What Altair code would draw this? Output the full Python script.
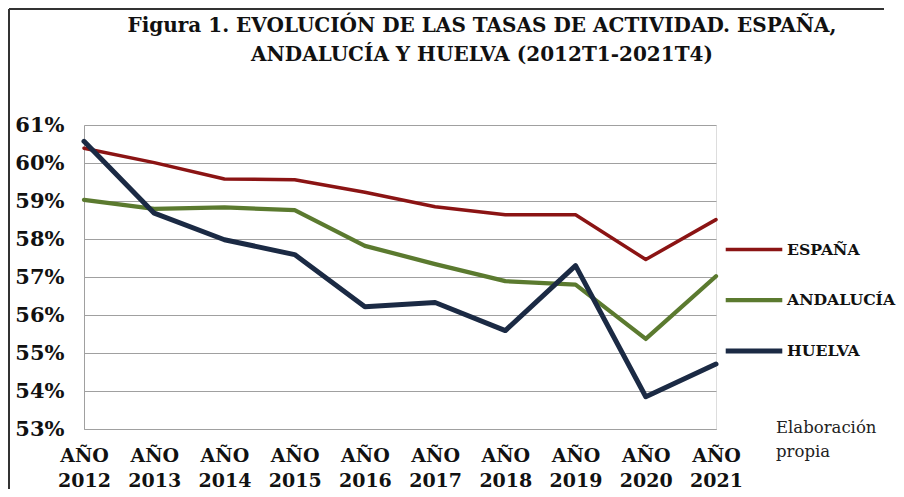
import altair as alt
import pandas as pd

years = ["AÑO 2012", "AÑO 2013", "AÑO 2014", "AÑO 2015", "AÑO 2016",
         "AÑO 2017", "AÑO 2018", "AÑO 2019", "AÑO 2020", "AÑO 2021"]
espana = [60.39, 60.01, 59.58, 59.56, 59.23, 58.85, 58.64, 58.64, 57.46, 58.51]
andalucia = [59.03, 58.79, 58.83, 58.76, 57.82, 57.34, 56.89, 56.80, 55.37, 57.02]
huelva = [60.57, 58.68, 57.98, 57.59, 56.22, 56.33, 55.59, 57.30, 53.85, 54.71]

series_names = ["ESPAÑA", "ANDALUCÍA", "HUELVA"]
series_colors = ["#8B1414", "#5B7A2F", "#1B2A44"]
series_widths = [3.5, 5, 5]

title_lines = ["Figura 1. EVOLUCIÓN DE LAS TASAS DE ACTIVIDAD. ESPAÑA,",
               "ANDALUCÍA Y HUELVA (2012T1-2021T4)"]
note_lines = ["Elaboración", "propia"]

rows = []
for name, vals in zip(series_names, [espana, andalucia, huelva]):
    for y, v in zip(years, vals):
        rows.append({"año": y, "serie": name, "tasa": v / 100})
df = pd.DataFrame(rows)

SERIF = "DejaVu Serif"
one = pd.DataFrame({"k": [0]})

lines = alt.Chart(df).mark_line(strokeCap="round", strokeJoin="round").encode(
    x=alt.X("año:N", sort=years, scale=alt.Scale(type="point", padding=0),
            axis=alt.Axis(title=None, labelAngle=0, labelExpr="split(datum.label, ' ')",
                          labelFont=SERIF, labelFontWeight="bold", labelFontSize=19,
                          labelColor="#111111", labelLineHeight=25, labelPadding=17,
                          ticks=False, domainColor="#A0A0A0", grid=False)),
    y=alt.Y("tasa:Q", scale=alt.Scale(domain=[0.53, 0.61], nice=False, zero=False),
            axis=alt.Axis(title=None, format=".0%",
                          values=[0.53, 0.54, 0.55, 0.56, 0.57, 0.58, 0.59, 0.60, 0.61],
                          labelFont=SERIF, labelFontWeight="bold", labelFontSize=21,
                          labelColor="#111111", labelPadding=20, ticks=False,
                          domainColor="#A0A0A0", gridColor="#A0A0A0", gridWidth=1.2)),
    color=alt.Color("serie:N", sort=series_names,
                    scale=alt.Scale(domain=series_names, range=series_colors),
                    legend=alt.Legend(title=None, orient="none", legendX=639, legendY=94,
                                      padding=0,
                                      symbolType="stroke", symbolSize=3200, symbolStrokeWidth=5,
                                      labelFont=SERIF, labelFontWeight="bold", labelFontSize=15.7,
                                      labelColor="#111111", labelOffset=2, rowPadding=11.5,
                                      labelLimit=300)),
    strokeWidth=alt.StrokeWidth("serie:N", sort=series_names,
                                scale=alt.Scale(domain=series_names, range=series_widths),
                                legend=None),
)

title = alt.Chart(one).mark_text(
    text=title_lines, font=SERIF, fontSize=20, fontWeight="bold", color="#111111",
    align="center", baseline="top", lineHeight=29).encode(
    x=alt.value(398), y=alt.value(-109))

note = alt.Chart(one).mark_text(
    text=note_lines, font=SERIF, fontSize=16.5, align="left", baseline="middle",
    color="#222222", lineHeight=24).encode(
    x=alt.value(692), y=alt.value(303))

frame_left = alt.Chart(one).mark_rule(color="#333333", strokeWidth=2).encode(
    x=alt.value(-75), x2=alt.value(-75), y=alt.value(-116), y2=alt.value(364))
frame_top = alt.Chart(one).mark_rule(color="#333333", strokeWidth=2).encode(
    x=alt.value(-75), x2=alt.value(800), y=alt.value(-116), y2=alt.value(-116))

chart = alt.layer(frame_left, frame_top, title, lines, note).properties(
    width=632, height=304,
).configure_view(stroke=None).configure(padding=0, background="white")

chart.save("out.html", embed_options={"renderer": "svg", "actions": False})
